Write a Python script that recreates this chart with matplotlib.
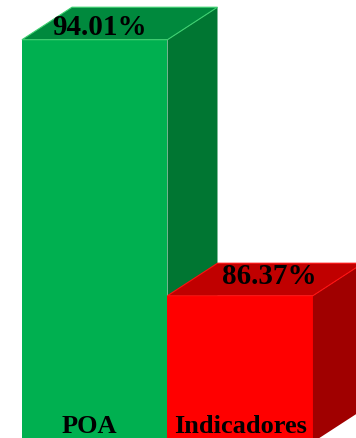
import matplotlib.pyplot as plt
from matplotlib.patches import Polygon

categories = ['POA', 'Indicadores']
values = [94.01, 86.37]
value_labels = ['94.01%', '86.37%']

front_colors = ['#00B050', '#FF0000']
top_colors = ['#00893D', '#C00000']
side_colors = ['#007632', '#A00000']
edge_colors = ['#3DD070', '#FF1010']

base = 82.0          # start of the value axis
width = 1.0
depth_x = 0.344      # 3d depth in x units
depth_y = 0.97       # 3d depth in value units
label_shift_x = [0.03, 0.2]
label_shift_y = [-0.1, 0.12]

fig = plt.figure(figsize=(3.56, 4.39), dpi=100)
ax = fig.add_axes([0, 0, 1, 1])
ax.set_xlim(-0.651, 1.796)
ax.set_ylim(82.124, 95.225)
ax.axis('off')

for i, v in enumerate(values):
    x0 = i - width / 2
    x1 = i + width / 2
    ax.bar(i, v - base, bottom=base, width=width, color=front_colors[i], zorder=2 + 3 * i)
    side = Polygon([(x1, base), (x1 + depth_x, base + depth_y), (x1 + depth_x, v + depth_y), (x1, v)],
                   closed=True, facecolor=side_colors[i], edgecolor='none', zorder=3 + 3 * i)
    top = Polygon([(x0, v), (x0 + depth_x, v + depth_y), (x1 + depth_x, v + depth_y), (x1, v)],
                  closed=True, facecolor=top_colors[i], edgecolor=edge_colors[i], lw=0.8, zorder=4 + 3 * i)
    ax.add_patch(side)
    ax.add_patch(top)
    ax.text(i + label_shift_x[i], v + depth_y / 2 + label_shift_y[i], value_labels[i], ha='center', va='center',
            fontsize=21, fontweight='bold', family='Liberation Serif', color='black', zorder=20)
    ax.text(i - 0.04 * (1 - i), 82.31, categories[i], ha='center', va='baseline',
            fontsize=19, fontweight='bold', family='Liberation Serif', color='black', zorder=20)

fig.savefig('out.png', dpi=100)
